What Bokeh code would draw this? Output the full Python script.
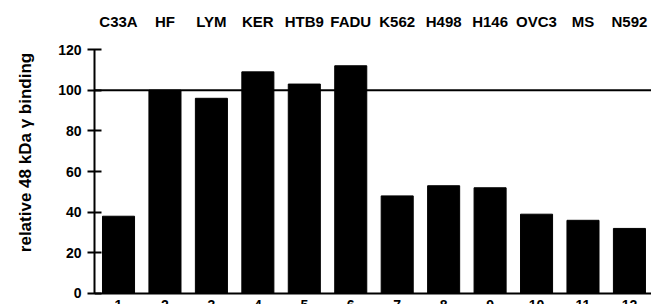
from bokeh.plotting import figure
from bokeh.models import Span, FixedTicker, Range1d, ColumnDataSource
from bokeh.core.properties import value
from bokeh.embed import file_html
from bokeh.resources import INLINE

cell_lines = ["C33A", "HF", "LYM", "KER", "HTB9", "FADU", "K562", "H498", "H146", "OVC3", "MS", "N592"]
lanes = [1, 2, 3, 4, 5, 6, 7, 8, 9, 10, 11, 12]
binding = [38, 100, 96, 109, 103, 112, 48, 53, 52, 39, 36, 32]
y_ticks = [0, 20, 40, 60, 80, 100, 120]

FONT = "Liberation Sans"

src = ColumnDataSource(dict(
    x=lanes, top=binding, name=cell_lines, lab=[str(v) for v in lanes],
    ytop=[133.8] * len(lanes), ybot=[-3.2] * len(lanes),
))

p = figure(width=651, height=304, output_backend="svg", toolbar_location=None,
           x_range=Range1d(0.483, 12.475), y_range=Range1d(-5.41, 144.1),
           min_border_left=94, min_border_right=0, min_border_top=0, min_border_bottom=0,
           x_axis_location=None)
p.xgrid.visible = False
p.ygrid.visible = False
p.outline_line_color = None
p.background_fill_color = "white"

p.vbar(x="x", top="top", bottom=0, width=0.69, color="black", source=src)

p.add_layout(Span(location=100, dimension="width", line_color="black", line_width=2))
p.add_layout(Span(location=0, dimension="width", line_color="black", line_width=2))

p.text(x="x", y="ytop", text="name", source=src, text_align="center", text_baseline="middle",
       text_font=value(FONT), text_font_style="bold", text_font_size="15px", text_color="black")
p.text(x="x", y="ybot", text="lab", source=src, text_align="center", text_baseline="top",
       text_font=value(FONT), text_font_style="bold", text_font_size="14px", text_color="black")

ax = p.yaxis[0]
ax.ticker = FixedTicker(ticks=y_ticks)
ax.bounds = (0, 120)
ax.axis_line_width = 2
ax.axis_line_color = "black"
ax.major_tick_in = 7
ax.major_tick_out = 7
ax.major_tick_line_width = 2
ax.minor_tick_line_color = None
ax.major_label_text_font = FONT
ax.major_label_text_font_style = "bold"
ax.major_label_text_font_size = "14px"
ax.major_label_text_color = "black"
ax.major_label_standoff = 6
ax.axis_label = "relative 48 kDa γ binding"
ax.axis_label_text_font = FONT
ax.axis_label_text_font_style = "bold"
ax.axis_label_text_font_size = "17px"
ax.axis_label_text_color = "black"
ax.axis_label_standoff = 20

open("out.html", "w").write(file_html(p, INLINE))
